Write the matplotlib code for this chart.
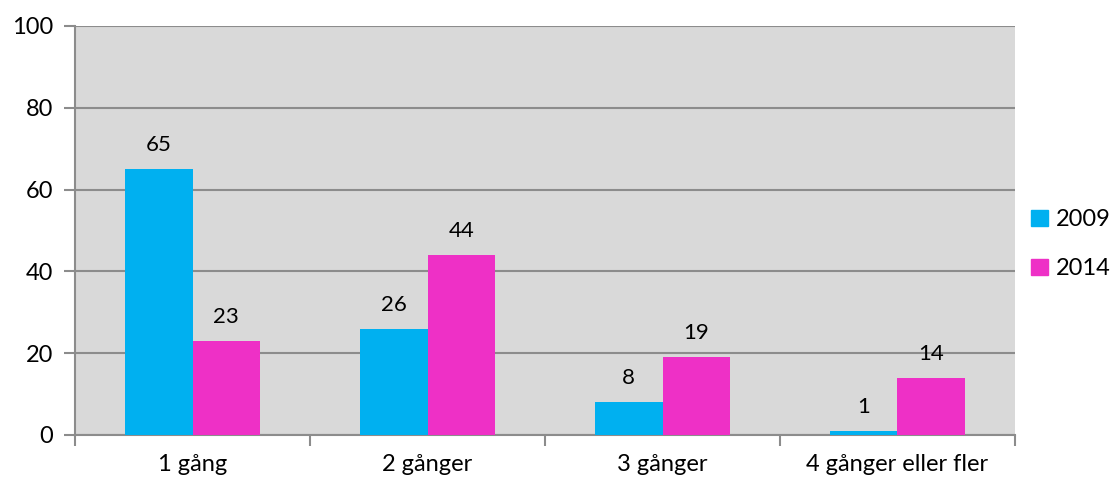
import numpy as np
import matplotlib.pyplot as plt
from matplotlib.patches import Patch

# Data
categories = ['1 gång', '2 gånger', '3 gånger', '4 gånger eller fler']
years = ['2009', '2014']
values_2009 = [65, 26, 8, 1]
values_2014 = [23, 44, 19, 14]

blue = '#00B0F0'
pink = '#EE30C6'
grid_col = '#8C8C8C'

plt.rcParams['font.family'] = ['Lato', 'DejaVu Sans']

fig = plt.figure(figsize=(11.1, 4.79), dpi=100)
ax = fig.add_axes([0.0676, 0.0919, 0.8468, 0.8539])
ax.set_facecolor('#D9D9D9')

x = np.arange(len(categories))
w = 0.287
b1 = ax.bar(x - w / 2, values_2009, w, color=blue, zorder=3)
b2 = ax.bar(x + w / 2, values_2014, w, color=pink, zorder=3)

for bars in (b1, b2):
    for rect in bars:
        h = rect.get_height()
        ax.annotate(f'{h:g}', (rect.get_x() + rect.get_width() / 2, h),
                    xytext=(0, 10), textcoords='offset points',
                    ha='center', va='bottom', fontsize=16)

ax.set_xlim(-0.5, len(categories) - 0.5)
ax.set_ylim(0, 100)
ax.set_yticks(range(0, 101, 20))
ax.yaxis.grid(True, color=grid_col, linewidth=1.5, zorder=1)
ax.tick_params(axis='y', labelsize=17, length=8, width=1.5, color=grid_col, pad=8)

# category labels centred, tick marks on the boundaries
ax.set_xticks(np.arange(-0.5, len(categories), 1.0))
ax.set_xticklabels([])
ax.set_xticks(x, minor=True)
ax.set_xticklabels(categories, minor=True, fontsize=17)
ax.tick_params(axis='x', which='major', length=8, width=1.5, color=grid_col)
ax.tick_params(axis='x', which='minor', length=0, pad=14)

for s in ['top', 'right']:
    ax.spines[s].set_visible(False)
for s in ['left', 'bottom']:
    ax.spines[s].set_color(grid_col)
    ax.spines[s].set_linewidth(1.5)

handles = [Patch(color=blue, label=years[0]), Patch(color=pink, label=years[1])]
fig.legend(handles=handles, loc='center left', bbox_to_anchor=(0.929, 0.49),
           frameon=False, fontsize=17, handlelength=0.7, handleheight=0.7,
           handletextpad=0.35, labelspacing=1.2, borderpad=0, borderaxespad=0)

fig.savefig('out.png', dpi=100)
